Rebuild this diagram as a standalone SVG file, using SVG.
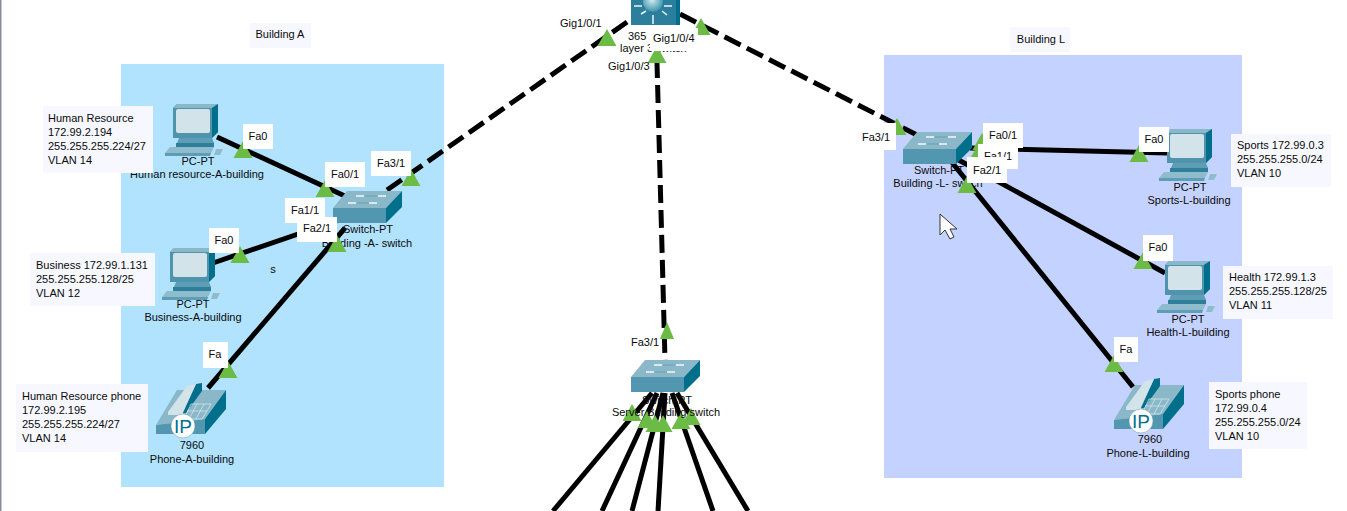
<svg xmlns="http://www.w3.org/2000/svg" xmlns:xlink="http://www.w3.org/1999/xlink" width="1347" height="511" viewBox="0 0 1347 511">
<style>
text{font-family:"Liberation Sans",Arial,sans-serif;font-size:11px;fill:#0a0a0a}
.m{text-anchor:middle}
.link{stroke:#000;stroke-width:5;fill:none;stroke-linecap:butt}
.dash{stroke-dasharray:18 7}
.tri{fill:#6cbb45}
.box{fill:#fff}
.info{fill:#f7f8ff}
</style>
<defs>
<radialGradient id="sphere" cx=".45" cy=".4" r=".65"><stop offset="0" stop-color="#d5ebf0"/><stop offset="1" stop-color="#2f8ba6"/></radialGradient>
<polygon id="t" class="tri" points="0,-17 9.5,0 -9.5,0"/>
<g id="pc">
<polygon points="0,4 4,0 45,0 45,28 39,34 0,34" fill="#4f93ad"/>
<polygon points="0,4 4,0 45,0 39,4" fill="#8ab8c8"/>
<polygon points="39,4 45,0 45,28 39,34" fill="#006f8c"/>
<rect x="3" y="5" width="34" height="24" rx="2" fill="#d2e3ea"/>
<polygon points="6,34 39,34 41,39 4,39" fill="#5d9db5"/>
<polygon points="3,39 41,39 41,43 3,43" fill="#2f7f9b"/>
<polygon points="-3,43 41,43 38,49 -8,49" fill="#8fbccc"/>
<polygon points="-8,49 38,49 37,52 -8,52" fill="#5d9db5"/>
<polygon points="43,45 50,45 47,51 41,51" fill="#8fbccc"/>
<path d="M47,45q9,-7 7,-1" fill="none" stroke="#c9dce4"/>
</g>
<g id="switch">
<polygon points="14,0 69,0 53,17 0,17" fill="#8ab8c8"/>
<polygon points="0,17 53,17 53,32 0,32" fill="#5396b0"/>
<polygon points="53,17 69,0 69,16 53,32" fill="#006f8c"/>
<g stroke="#f4f8fa" stroke-width="1.5"><path d="M23,5h8M45,5h8M15,12h8M36,12h8"/></g>
<g stroke="#6b9fb2"><path d="M32,5h12M24,12h12"/></g>
</g>
<g id="phone">
<polygon points="21,7 70,7 49,36 0,42" fill="#8ab8c8"/>
<polygon points="0,42 49,36 49,51 0,51" fill="#5396b0"/>
<polygon points="49,36 70,7 70,26 49,51" fill="#006f8c"/>
<polygon points="40,1 46,0 46,8 30,30 27,30" fill="#006f8c"/>
<polygon points="12,29 31,3 40,1 27,29 27,32 12,32" fill="#d2e3ea"/>
<g stroke="#d2e3ea" fill="none" stroke-width=".8"><path d="M35,21h20l-9,15h-18zM31,28h20M41,21l-8,15M48,21l-8,15"/></g>
<circle cx="27" cy="43" r="12" fill="#fff" stroke="#5396b0" stroke-width=".5"/>
<text x="27" y="50" class="m" style="font-size:19px;fill:#006f8c">IP</text>
</g>
</defs>
<rect width="1347" height="511" fill="#fff"/>
<rect width="1.5" height="511" fill="#888ea0"/>
<g id="areas">
<rect x="121" y="64" width="323" height="423" fill="#b1e3ff"/>
<rect x="884" y="55" width="358" height="423" fill="#c4d2ff"/>
<rect class="info" x="250" y="23" width="61" height="25"/>
<text x="280" y="38" class="m">Building A</text>
<rect class="info" x="1010" y="27" width="60" height="25"/>
<text x="1041" y="43" class="m">Building L</text>
</g>
<g id="connectors">
<path class="link" d="M217,137L347,197"/>
<path class="link" d="M213,263L345,218"/>
<path class="link" d="M208,388L345,228"/>
<path class="link dash" d="M387,190L630,20"/>
<path class="link dash" d="M680,14L917,135"/>
<path class="link dash" stroke-dashoffset="3" d="M657,63L665,360"/>
<path class="link" d="M970,148L1167,153"/>
<path class="link" d="M955,158L1165,273"/>
<path class="link" d="M950,160L1133,387"/>
<path class="link" d="M652,393L553,511"/>
<path class="link" d="M657,393L602,511"/>
<path class="link" d="M663,393L632,511"/>
<path class="link" d="M665,393L658,511"/>
<path class="link" d="M672,393L713,511"/>
<path class="link" d="M677,393L748,511"/>
</g>
<g id="node-human-pc"><use xlink:href="#pc" href="#pc" x="173" y="104"/><text x="198" y="165" class="m">PC-PT</text><text x="197" y="178" class="m">Human resource-A-building</text></g>
<g id="node-business-pc"><use xlink:href="#pc" href="#pc" x="170" y="248"/><text x="193" y="308" class="m">PC-PT</text><text x="193" y="321" class="m">Business-A-building</text></g>
<g id="node-phone-a"><use xlink:href="#phone" href="#phone" x="156" y="383"/><text x="192" y="449" class="m">7960</text><text x="192" y="463" class="m">Phone-A-building</text></g>
<g id="node-switch-a"><use xlink:href="#switch" href="#switch" x="333" y="191"/><text x="368" y="233" class="m">Switch-PT</text><text x="367" y="247" class="m">Building -A- switch</text></g>
<g id="node-core">
<polygon points="631,-6 680,-6 680,25 631,25" fill="#2c7f9c"/>
<polygon points="676,-6 680,-6 680,25 676,25" fill="#006f8c"/>
<circle cx="653" cy="2" r="10" fill="url(#sphere)"/>
<g stroke="#eef6f8" stroke-width="1.5"><path d="M634,6h8M664,6h8M641,14l5,-3M667,15l-5,-4M653,15v9"/></g>
<text x="628" y="40">365</text><text x="620" y="52">layer 3 switch</text></g>
<g id="node-switch-server"><use xlink:href="#switch" href="#switch" x="631" y="360"/></g>
<g id="node-switch-l"><use xlink:href="#switch" href="#switch" x="903" y="132"/><text x="939" y="174" class="m">Switch-PT</text><text x="938" y="187" class="m">Building -L- switch</text></g>
<g id="node-sports-pc"><use xlink:href="#pc" href="#pc" x="1167" y="129"/><text x="1190" y="191" class="m">PC-PT</text><text x="1189" y="204" class="m">Sports-L-building</text></g>
<g id="node-health-pc"><use xlink:href="#pc" href="#pc" x="1165" y="261"/><text x="1188" y="323" class="m">PC-PT</text><text x="1188" y="336" class="m">Health-L-building</text></g>
<g id="node-phone-l"><use xlink:href="#phone" href="#phone" x="1114" y="378"/><text x="1150" y="443" class="m">7960</text><text x="1148" y="457" class="m">Phone-L-building</text></g>
<g id="ports">
<use href="#t" x="243" y="158"/><use href="#t" x="325" y="197"/><use href="#t" x="411" y="186"/><use href="#t" x="318" y="237"/><use href="#t" x="337" y="252"/><use href="#t" x="240" y="263"/><use href="#t" x="228" y="378"/>
<use href="#t" x="607" y="46"/><use href="#t" x="657" y="63"/><use href="#t" x="701" y="35"/><polygon class="tri" points="667,322 674,339 660,339"/>
<use href="#t" x="897" y="135"/><use href="#t" x="982" y="150"/><use href="#t" x="980" y="158"/><use href="#t" x="967" y="193"/><use href="#t" x="1139" y="162"/><use href="#t" x="1143" y="269"/><use href="#t" x="1114" y="372"/>
<use href="#t" x="632" y="421"/><use href="#t" x="647" y="428"/><use href="#t" x="655" y="432"/><use href="#t" x="663" y="432"/><use href="#t" x="681" y="429"/><use href="#t" x="691" y="425"/>
</g>
<g id="server-label"><text x="667" y="404" class="m">Switch-PT</text><text x="666" y="416" class="m">Server Building switch</text></g>
<g id="port-labels">
<rect class="box" x="243" y="124" width="30" height="25"/><text x="258" y="140" class="m">Fa0</text>
<rect class="box" x="325" y="162" width="40" height="25"/><text x="345" y="178" class="m">Fa0/1</text>
<rect class="box" x="371" y="151" width="40" height="25"/><text x="391" y="167" class="m">Fa3/1</text>
<rect class="box" x="285" y="198" width="40" height="25"/><text x="305" y="214" class="m">Fa1/1</text>
<rect class="box" x="297" y="217" width="40" height="25"/><text x="317" y="232" class="m">Fa2/1</text>
<rect class="box" x="209" y="228" width="30" height="25"/><text x="224" y="244" class="m">Fa0</text>
<rect class="box" x="203" y="342" width="25" height="26"/><text x="215" y="358" class="m">Fa</text>
<text x="560" y="27">Gig1/0/1</text>
<rect class="box" x="650" y="28" width="48" height="23"/><text x="653" y="42">Gig1/0/4</text>
<text x="608" y="70">Gig1/0/3</text>
<text x="631" y="346">Fa3/1</text>
<rect class="box" x="856" y="123" width="40" height="27"/><text x="862" y="141">Fa3/1</text>
<rect class="box" x="983" y="123" width="40" height="25"/><text x="1003" y="139" class="m">Fa0/1</text>
<rect class="box" x="978" y="144" width="40" height="25"/><text x="998" y="160" class="m">Fa1/1</text>
<rect class="box" x="967" y="157" width="40" height="26"/><text x="987" y="174" class="m">Fa2/1</text>
<rect class="box" x="1139" y="127" width="30" height="25"/><text x="1154" y="143" class="m">Fa0</text>
<rect class="box" x="1143" y="235" width="30" height="26"/><text x="1158" y="251" class="m">Fa0</text>
<rect class="box" x="1114" y="337" width="24" height="25"/><text x="1126" y="353" class="m">Fa</text>
</g>
<g id="notes">
<rect class="info" x="43" y="106" width="110" height="67"/><text x="48" y="122">Human Resource</text><text x="48" y="136">172.99.2.194</text><text x="48" y="150">255.255.255.224/27</text><text x="48" y="164">VLAN 14</text>
<rect class="info" x="30" y="253" width="125" height="53"/><text x="36" y="269">Business 172.99.1.131</text><text x="36" y="283">255.255.255.128/25</text><text x="36" y="297">VLAN 12</text>
<rect class="info" x="16" y="384" width="132" height="68"/><text x="22" y="400">Human Resource phone</text><text x="22" y="414">172.99.2.195</text><text x="22" y="428">255.255.255.224/27</text><text x="22" y="442">VLAN 14</text>
<rect class="info" x="1231" y="134" width="100" height="53"/><text x="1237" y="149">Sports 172.99.0.3</text><text x="1237" y="163">255.255.255.0/24</text><text x="1237" y="177">VLAN 10</text>
<rect class="info" x="1223" y="266" width="110" height="53"/><text x="1229" y="281">Health 172.99.1.3</text><text x="1229" y="295">255.255.255.128/25</text><text x="1229" y="309">VLAN 11</text>
<rect class="info" x="1209" y="382" width="98" height="67"/><text x="1215" y="398">Sports phone</text><text x="1215" y="412">172.99.0.4</text><text x="1215" y="426">255.255.255.0/24</text><text x="1215" y="440">VLAN 10</text>
<text x="273" y="273" class="m">s</text>
</g>
<path id="cursor" d="M940,214V235L945,230L950,239L954,237L950,229L957,229Z" fill="#fff" stroke="#333"/>
</svg>
